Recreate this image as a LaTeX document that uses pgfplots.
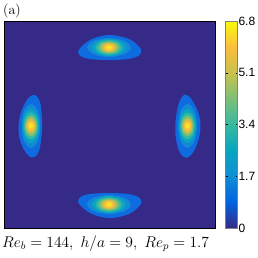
\RequirePackage{fix-cm}
\documentclass[border=0pt]{standalone}
\usepackage{pgfplots}
\pgfplotsset{compat=1.18}
\usepackage{fontspec}
\newfontfamily\hv{Liberation Sans}
\definecolor{bg}{rgb}{0.2081,0.1663,0.5292}
\definecolor{cA}{rgb}{0.06,0.42,0.88}
\definecolor{cB}{rgb}{0.08,0.54,0.83}
\definecolor{cC}{rgb}{0.03,0.65,0.77}
\definecolor{cD}{rgb}{0.20,0.72,0.64}
\definecolor{cE}{rgb}{0.46,0.75,0.48}
\definecolor{cF}{rgb}{0.76,0.75,0.32}
\definecolor{cG}{rgb}{0.99,0.74,0.24}
\definecolor{cH}{rgb}{0.97,0.90,0.14}
\pgfplotsset{
  colormap={parula}{rgb=(0.2081,0.1663,0.5292) rgb=(0.0117,0.3875,0.8820) rgb=(0.0641,0.5570,0.8240) rgb=(0.0230,0.6497,0.7567) rgb=(0.2161,0.7250,0.6220) rgb=(0.4900,0.7490,0.4670) rgb=(0.7860,0.7580,0.3000) rgb=(0.9930,0.7410,0.2390) rgb=(0.9763,0.9831,0.0538)},
  blob/.style={draw=none, smooth cycle, forget plot},
}
\begin{document}
\begin{tikzpicture}
\useasboundingbox (0,0) rectangle (258pt,258pt);
\begin{axis}[
  at={(4pt,30pt)}, anchor=south west,
  scale only axis, width=211pt, height=207pt,
  xmin=4, xmax=215, ymin=21, ymax=228, y dir=reverse,
  xtick=\empty, ytick=\empty,
  axis line style={line width=0.8pt},
  axis background/.style={fill=bg},
  colormap name=parula,
  point meta min=0, point meta max=6.8,
  colorbar,
  colorbar style={
    at={(parent axis.north east)}, anchor=north west, xshift=2pt,
    width=12pt,
    ytick={0,1.7,3.4,5.1,6.8},
    yticklabel style={font=\hv\fontsize{12}{13}\selectfont, /pgf/number format/fixed, /pgf/number format/precision=1, /pgf/number format/assume math mode=true, xshift=-2.5pt},
    tick align=inside, major tick length=2pt,
    tick style={black, line width=0.4pt},
    axis line style={gray, line width=0.5pt},
  },
]
% top blob
\addplot[blob, fill=cA] coordinates {(78,51.5) (82,46) (90,40) (100,36.3) (110,35) (120,36.3) (130,39.5) (137,44.5) (141.5,50.5) (139,55.5) (131,58.5) (120,59.7) (109,60) (98,59.7) (87,58.5) (80.5,56)};
\addplot[blob, fill=cB] coordinates {(131,47.5) (124.55,54.22) (109,57) (93.45,54.22) (87,47.5) (93.45,40.78) (109,38) (124.55,40.78)};
\addplot[blob, fill=cC] coordinates {(126,47.5) (121.02,53.51) (109,56) (96.98,53.51) (92,47.5) (96.98,41.49) (109,39) (121.02,41.49)};
\addplot[blob, fill=cD] coordinates {(122.5,47.5) (118.54,52.66) (109,54.8) (99.46,52.66) (95.5,47.5) (99.46,42.34) (109,40.2) (118.54,42.34)};
\addplot[blob, fill=cE] coordinates {(119.5,47.5) (116.42,51.88) (109,53.7) (101.58,51.88) (98.5,47.5) (101.58,43.12) (109,41.3) (116.42,43.12)};
\addplot[blob, fill=cF] coordinates {(117,47.5) (114.66,51.04) (109,52.5) (103.34,51.04) (101,47.5) (103.34,43.96) (109,42.5) (114.66,43.96)};
\addplot[blob, fill=cG] coordinates {(114.5,47.5) (112.89,50.19) (109,51.3) (105.11,50.19) (103.5,47.5) (105.11,44.81) (109,43.7) (112.89,44.81)};
\addplot[blob, fill=cH] coordinates {(112,47.5) (111.12,49.13) (109,49.8) (106.88,49.13) (106,47.5) (106.88,45.87) (109,45.2) (111.12,45.87)};
% bottom blob
\addplot[blob, fill=cA] coordinates {(78,201.5) (82,207) (90,213) (100,216.7) (110,218) (120,216.7) (130,213.5) (137,208.5) (141.5,202.5) (139,197.5) (131,194.5) (120,193.3) (109,193) (98,193.3) (87,194.5) (80.5,197)};
\addplot[blob, fill=cB] coordinates {(131,204.5) (124.55,211.22) (109,214) (93.45,211.22) (87,204.5) (93.45,197.78) (109,195) (124.55,197.78)};
\addplot[blob, fill=cC] coordinates {(126,204.5) (121.02,210.51) (109,213) (96.98,210.51) (92,204.5) (96.98,198.49) (109,196) (121.02,198.49)};
\addplot[blob, fill=cD] coordinates {(122.5,204.5) (118.54,209.66) (109,211.8) (99.46,209.66) (95.5,204.5) (99.46,199.34) (109,197.2) (118.54,199.34)};
\addplot[blob, fill=cE] coordinates {(119.5,204.5) (116.42,208.88) (109,210.7) (101.58,208.88) (98.5,204.5) (101.58,200.12) (109,198.3) (116.42,200.12)};
\addplot[blob, fill=cF] coordinates {(117,204.5) (114.66,208.04) (109,209.5) (103.34,208.04) (101,204.5) (103.34,200.96) (109,199.5) (114.66,200.96)};
\addplot[blob, fill=cG] coordinates {(114.5,204.5) (112.89,207.19) (109,208.3) (105.11,207.19) (103.5,204.5) (105.11,201.81) (109,200.7) (112.89,201.81)};
\addplot[blob, fill=cH] coordinates {(112,204.5) (111.12,206.13) (109,206.8) (106.88,206.13) (106,204.5) (106.88,202.87) (109,202.2) (111.12,202.87)};
% left blob
\addplot[blob, fill=cA] coordinates {(33,95) (28,98.5) (23.5,106) (20,116) (18.5,127) (19.5,138) (23,148) (28,155) (32,157.5) (37,155) (40,147) (42,130) (41.5,112) (40,102) (37,96.5)};
\addplot[blob, fill=cB] coordinates {(40.5,126) (37.72,141.55) (31,148) (24.28,141.55) (21.5,126) (24.28,110.45) (31,104) (37.72,110.45)};
\addplot[blob, fill=cC] coordinates {(39.5,126) (37.01,138.02) (31,143) (24.99,138.02) (22.5,126) (24.99,113.98) (31,109) (37.01,113.98)};
\addplot[blob, fill=cD] coordinates {(38.3,126) (36.16,135.54) (31,139.5) (25.84,135.54) (23.7,126) (25.84,116.46) (31,112.5) (36.16,116.46)};
\addplot[blob, fill=cE] coordinates {(37.2,126) (35.38,133.42) (31,136.5) (26.62,133.42) (24.8,126) (26.62,118.58) (31,115.5) (35.38,118.58)};
\addplot[blob, fill=cF] coordinates {(36,126) (34.54,131.66) (31,134) (27.46,131.66) (26,126) (27.46,120.34) (31,118) (34.54,120.34)};
\addplot[blob, fill=cG] coordinates {(34.8,126) (33.69,129.89) (31,131.5) (28.31,129.89) (27.2,126) (28.31,122.11) (31,120.5) (33.69,122.11)};
\addplot[blob, fill=cH] coordinates {(33.3,126) (32.63,128.12) (31,129) (29.37,128.12) (28.7,126) (29.37,123.88) (31,123) (32.63,123.88)};
% right blob
\addplot[blob, fill=cA] coordinates {(185,94.5) (190,97.5) (195,105) (199,115) (200.5,126) (199,138) (195.5,148) (191,155) (186.5,157.7) (182,155.5) (178,148) (175.5,135) (175.5,122) (177.5,108) (181,98.5)};
\addplot[blob, fill=cB] coordinates {(197,126) (194.22,141.55) (187.5,148) (180.78,141.55) (178,126) (180.78,110.45) (187.5,104) (194.22,110.45)};
\addplot[blob, fill=cC] coordinates {(196,126) (193.51,138.02) (187.5,143) (181.49,138.02) (179,126) (181.49,113.98) (187.5,109) (193.51,113.98)};
\addplot[blob, fill=cD] coordinates {(194.8,126) (192.66,135.54) (187.5,139.5) (182.34,135.54) (180.2,126) (182.34,116.46) (187.5,112.5) (192.66,116.46)};
\addplot[blob, fill=cE] coordinates {(193.7,126) (191.88,133.42) (187.5,136.5) (183.12,133.42) (181.3,126) (183.12,118.58) (187.5,115.5) (191.88,118.58)};
\addplot[blob, fill=cF] coordinates {(192.5,126) (191.04,131.66) (187.5,134) (183.96,131.66) (182.5,126) (183.96,120.34) (187.5,118) (191.04,120.34)};
\addplot[blob, fill=cG] coordinates {(191.3,126) (190.19,129.89) (187.5,131.5) (184.81,129.89) (183.7,126) (184.81,122.11) (187.5,120.5) (190.19,122.11)};
\addplot[blob, fill=cH] coordinates {(189.8,126) (189.13,128.12) (187.5,129) (185.87,128.12) (185.2,126) (185.87,123.88) (187.5,123) (189.13,123.88)};
\end{axis}
\node[anchor=west, inner sep=0pt, font=\fontsize{14}{15}\selectfont] at (3pt,247pt) {(a)};
\node[anchor=west, inner sep=0pt, font=\fontsize{15.5}{17}\selectfont] at (2pt,14pt) {$Re_b = 144,\ h/a = 9,\ Re_p = 1.7$};
\end{tikzpicture}
\end{document}
